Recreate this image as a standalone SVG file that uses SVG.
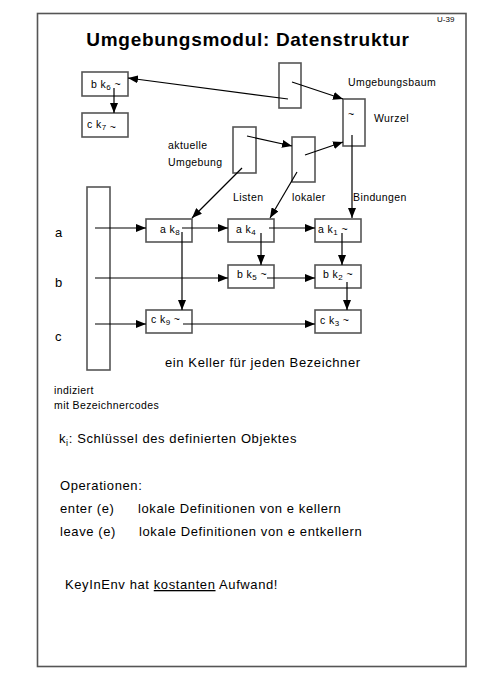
<svg xmlns="http://www.w3.org/2000/svg" width="480" height="678" viewBox="0 0 480 678">
<defs>
<marker id="ah" viewBox="0 0 10 8" refX="10" refY="4" markerWidth="10" markerHeight="8" markerUnits="userSpaceOnUse" orient="auto">
<path d="M0,0 L10,4 L0,8 Z" fill="#000"/>
</marker>
<style>
text{font-family:"Liberation Sans",Arial,sans-serif;fill:#000}
.box{fill:#fff;stroke:#555;stroke-width:1.6}
.bt{font-size:10.5px;letter-spacing:0.4px}
.sub{font-size:8px}
.lbl{font-size:10.5px;letter-spacing:0.4px}
.body{font-size:13px;letter-spacing:0.6px}
.c line,.c path{stroke:#000;stroke-width:1.2;fill:none}
.c .a{marker-end:url(#ah)}
</style>
</defs>
<rect width="480" height="678" fill="#fff"/>
<rect x="37.5" y="13.5" width="428.5" height="653" fill="none" stroke="#555" stroke-width="1.6"/>
<text x="437" y="22" style="font-size:8px">U-39</text>
<text x="248" y="46" text-anchor="middle" style="font-size:19px;font-weight:bold;letter-spacing:0.7px">Umgebungsmodul: Datenstruktur</text>

<g id="n_bk6"><rect class="box" x="82" y="72" width="46" height="24"/><text class="bt" x="91" y="88">b k<tspan class="sub" dy="2">6</tspan><tspan dy="-2"> ~</tspan></text></g>
<g id="n_ck7"><rect class="box" x="82" y="113" width="46" height="24"/><text class="bt" x="87" y="128">c k<tspan class="sub" dy="2">7</tspan><tspan dy="1">  ~</tspan></text></g>
<g id="n_env1"><rect class="box" x="279" y="63" width="22" height="45"/></g>
<g id="n_wurzel"><rect class="box" x="343" y="99" width="22" height="47"/><text class="bt" x="348" y="118">~</text></g>
<g id="n_aktuell"><rect class="box" x="233" y="127" width="23" height="46"/></g>
<g id="n_lokal"><rect class="box" x="292" y="137" width="23" height="45"/></g>
<g id="n_index"><rect class="box" x="87" y="187" width="23" height="183"/></g>
<g id="n_ak8"><rect class="box" x="146" y="219" width="46" height="23"/><text class="bt" x="160" y="233">a k<tspan class="sub" dy="2">8</tspan></text></g>
<g id="n_ak4"><rect class="box" x="228" y="219" width="46" height="23"/><text class="bt" x="236" y="233">a k<tspan class="sub" dy="2">4</tspan></text></g>
<g id="n_ak1"><rect class="box" x="315" y="219" width="46" height="23"/><text class="bt" x="318" y="233">a k<tspan class="sub" dy="2">1</tspan><tspan dy="-2"> ~</tspan></text></g>
<g id="n_bk5"><rect class="box" x="228" y="265" width="46" height="23"/><text class="bt" x="237" y="278">b k<tspan class="sub" dy="2">5</tspan><tspan dy="-2"> ~</tspan></text></g>
<g id="n_bk2"><rect class="box" x="315" y="265" width="46" height="23"/><text class="bt" x="323" y="278">b k<tspan class="sub" dy="2">2</tspan><tspan dy="-2"> ~</tspan></text></g>
<g id="n_ck9"><rect class="box" x="146" y="310" width="46" height="23"/><text class="bt" x="151" y="323">c k<tspan class="sub" dy="2">9</tspan><tspan dy="-2"> ~</tspan></text></g>
<g id="n_ck3"><rect class="box" x="315" y="310" width="46" height="23"/><text class="bt" x="320" y="324">c k<tspan class="sub" dy="2">3</tspan><tspan dy="-2"> ~</tspan></text></g>

<g class="c" id="connectors">
<line class="a" x1="114" y1="88" x2="114" y2="113"/>
<line class="a" x1="288" y1="99" x2="128" y2="78"/>
<line class="a" x1="292" y1="82" x2="343" y2="99"/>
<line class="a" x1="247" y1="136" x2="292" y2="146"/>
<line class="a" x1="305" y1="155" x2="343" y2="142"/>
<line class="a" x1="242" y1="168" x2="192" y2="218"/>
<line class="a" x1="297" y1="172" x2="270" y2="218"/>
<line class="a" x1="352" y1="135" x2="352" y2="218"/>
<line class="a" x1="95" y1="228" x2="146" y2="228"/>
<line class="a" x1="95" y1="278" x2="228" y2="278"/>
<line class="a" x1="95" y1="324" x2="146" y2="324"/>
<line class="a" x1="182" y1="228" x2="228" y2="228"/>
<line class="a" x1="269" y1="228" x2="315" y2="228"/>
<line class="a" x1="261" y1="233" x2="261" y2="265"/>
<line class="a" x1="342" y1="233" x2="342" y2="265"/>
<line class="a" x1="267" y1="278" x2="315" y2="278"/>
<line class="a" x1="347" y1="282" x2="347" y2="310"/>
<line class="a" x1="182" y1="232" x2="182" y2="310"/>
<line class="a" x1="183" y1="324" x2="315" y2="324"/>
</g>

<text class="lbl" x="348" y="86">Umgebungsbaum</text>
<text class="lbl" x="374" y="122">Wurzel</text>
<text class="lbl" x="168" y="149">aktuelle</text>
<text class="lbl" x="168" y="166">Umgebung</text>
<text class="lbl" x="233" y="201">Listen</text>
<text class="lbl" x="292" y="201">lokaler</text>
<text class="lbl" x="353" y="201">Bindungen</text>
<text class="body" x="55" y="237">a</text>
<text class="body" x="55" y="287">b</text>
<text class="body" x="55" y="341">c</text>
<text class="body" x="165" y="367">ein Keller für jeden Bezeichner</text>
<text class="lbl" x="54" y="394">indiziert</text>
<text class="lbl" x="54" y="409">mit Bezeichnercodes</text>
<text class="body" x="59" y="443">k<tspan style="font-size:9px" dy="3">i</tspan><tspan dy="-3">: Schlüssel des definierten Objektes</tspan></text>
<text class="body" x="60" y="490">Operationen:</text>
<text class="body" x="60" y="513">enter (e)</text>
<text class="body" x="138" y="513">lokale Definitionen von e kellern</text>
<text class="body" x="60" y="536">leave (e)</text>
<text class="body" x="139" y="536">lokale Definitionen von e entkellern</text>
<text class="body" x="65" y="589">KeyInEnv hat <tspan text-decoration="underline">kostanten</tspan> Aufwand!</text>
</svg>
